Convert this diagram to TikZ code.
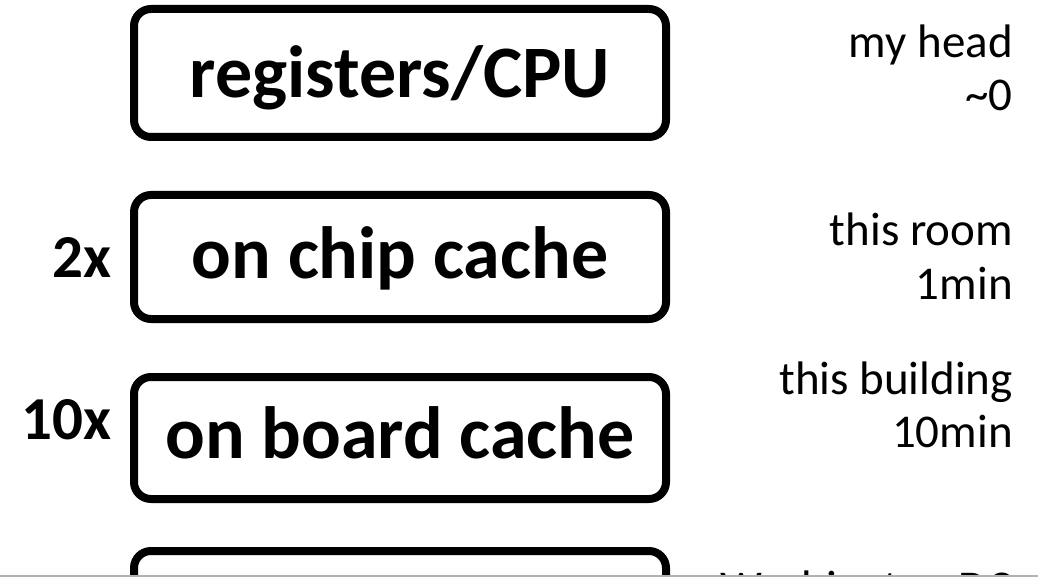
\documentclass[tikz,border=0pt]{standalone}
\usepackage{fontspec}
\setmainfont{Carlito}
\begin{document}
\begin{tikzpicture}[x=1pt,y=-1pt,
  levelbox/.style={draw=black, line width=8pt, rounded corners=17pt, inner sep=0pt, minimum width=532pt, text depth=0pt, font=\fontsize{74}{84}\selectfont\bfseries},
  factor/.style={anchor=base east, inner sep=0pt, font=\fontsize{61}{66}\selectfont\bfseries},
  place/.style={anchor=base east, inner sep=0pt, font=\fontsize{47}{52}\selectfont}]
\useasboundingbox (0,0) rectangle (1038,577);
\clip (0,0) rectangle (1038,577);
\node[levelbox, minimum height=128pt, text height=50pt] (cpu) at (400,73) {registers/CPU};
\node[levelbox, minimum height=124pt, text height=42pt] (chip) at (400,257) {on chip cache};
\node[levelbox, minimum height=122pt, text height=40pt] (board) at (400,438) {on board cache};
\node[levelbox, minimum height=122pt] (mem) at (400,612) {};
\node[factor] (f2) at (112,277) {2x};
\node[factor] (f10) at (112,439) {10x};
\node[place] (p1a) at (1013,58) {my head};
\node[place] (p1b) at (1013,111) {\textasciitilde0};
\node[place] (p2a) at (1013,246) {this room};
\node[place] (p2b) at (1013,299) {1min};
\node[place] (p3a) at (1013,394) {this building};
\node[place] (p3b) at (1013,447) {10min};
\node[place] (p4a) at (1013,603) {Washington DC};
\draw[gray!60, line width=1.5pt] (0,576) -- (1038,576);
\end{tikzpicture}
\end{document}
